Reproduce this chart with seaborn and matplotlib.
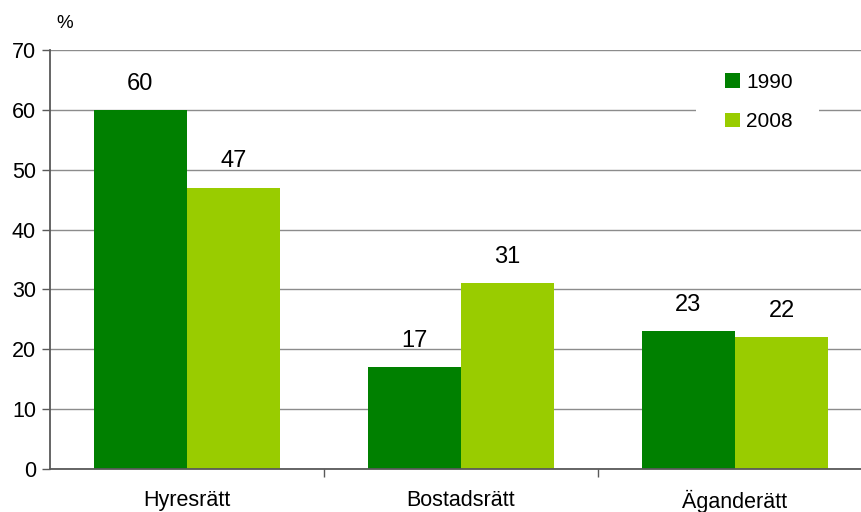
import matplotlib
matplotlib.use("Agg")
import matplotlib.pyplot as plt
from matplotlib.patches import Rectangle
import seaborn as sns
import pandas as pd

categories = ["Hyresrätt", "Bostadsrätt", "Äganderätt"]
years = ["1990", "2008"]
values_1990 = [60, 17, 23]
values_2008 = [47, 31, 22]
yticks = [0, 10, 20, 30, 40, 50, 60, 70]

colors = ["#008000", "#99CC00"]

df = pd.DataFrame({
    "Upplåtelseform": categories * 2,
    "År": [years[0]] * 3 + [years[1]] * 3,
    "Andel": values_1990 + values_2008,
})

sns.set_style("white")
plt.rcParams["font.family"] = ["Liberation Sans", "DejaVu Sans"]
plt.rcParams["text.color"] = "black"

fig = plt.figure(figsize=(8.61, 5.12), dpi=100)
# axes spans past the right edge of the canvas
ax = fig.add_axes([50 / 861, 1 - 469 / 512, 822 / 861, 419 / 512])

sns.barplot(data=df, x="Upplåtelseform", y="Andel", hue="År",
            palette=colors, width=0.68, saturation=1, ax=ax,
            linewidth=0, edgecolor="none", legend=True)

ax.set_xlim(-0.5, 2.5)
ax.set_ylim(0, 70)
ax.set_yticks(yticks)
ax.yaxis.grid(True, color="#8c8c8c", linewidth=1)
ax.set_axisbelow(True)
ax.set_xlabel("")
ax.set_ylabel("")

for side in ["top", "right"]:
    ax.spines[side].set_visible(False)
for side in ["left", "bottom"]:
    ax.spines[side].set_color("#595959")
    ax.spines[side].set_linewidth(1.3)

ax.tick_params(axis="y", which="major", left=True, length=6, width=1,
               color="#595959", labelsize=15.5, pad=4, labelcolor="black")
ax.set_xticks([0, 1, 2])
ax.set_xticklabels(categories, fontsize=15.5)
ax.tick_params(axis="x", length=0, pad=15, labelcolor="black")
ax.set_xticks([0.5, 1.5], minor=True)
ax.tick_params(axis="x", which="minor", bottom=True, length=6, width=1,
               color="#595959")

for cont in ax.containers:
    ax.bar_label(cont, labels=[f"{v:g}" for v in cont.datavalues],
                 padding=11, fontsize=17, color="black")

# white backing for the legend, hiding the gridline behind it
ax.add_patch(Rectangle((0.786, 0.80), 0.150, 0.175, transform=ax.transAxes,
                       facecolor="white", edgecolor="none", zorder=1))

leg = ax.legend(loc="upper left", bbox_to_anchor=(0.809, 0.971), frameon=False,
                fontsize=15, handlelength=0.7, handleheight=0.7,
                labelspacing=1.0, handletextpad=0.3, borderpad=0.5,
                borderaxespad=0, labelcolor="black")

fig.text(56 / 861, 1 - 28 / 512, "%", fontsize=13.5, color="black")

fig.savefig("out.png", dpi=100)
